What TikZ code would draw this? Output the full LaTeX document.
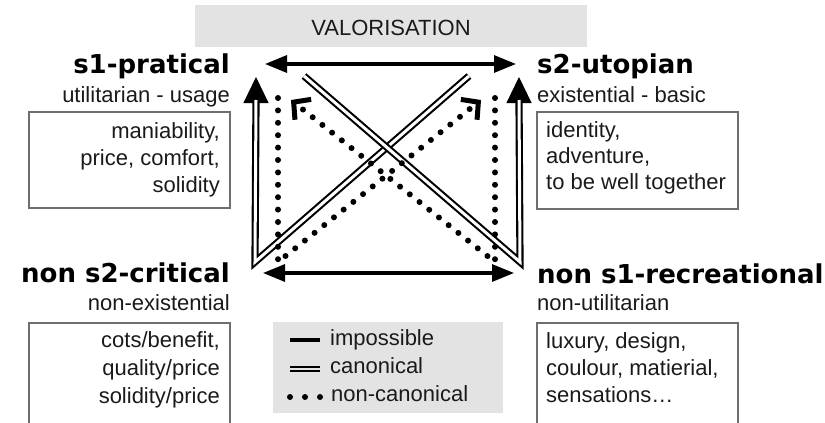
\documentclass[tikz,border=0pt]{standalone}
\usepackage{fontspec}
\setmainfont{Liberation Sans}
\newfontfamily\headfont{DejaVu Sans}
\usetikzlibrary{arrows.meta,calc}
\definecolor{bannergray}{HTML}{E3E3E3}
\definecolor{boxgray}{HTML}{6E6E6E}
\definecolor{textc}{HTML}{1A1A1A}
\tikzset{
  txt/.style={font=\fontsize{22}{26}\selectfont, inner sep=0pt, text=textc},
  head/.style={font=\headfont\bfseries\fontsize{26}{30}\selectfont, inner sep=0pt, text=black},
  impossible/.style={line width=3.2pt, {Triangle[length=22pt,width=17pt]}-{Triangle[length=22pt,width=17pt]}},
  impline/.style={line width=3.4pt},
  canon/.style={line width=2.1pt, double distance=3pt, double=white},
  canonhead/.style={line width=1pt, -{Triangle[length=26pt,width=25pt]}},
  noncanon/.style={line width=6pt, line cap=round, dash pattern=on 0pt off 12.4pt,
    -{Straight Barb[length=12pt,width=26pt,line width=5pt]}},
  catbox/.style={draw=boxgray, line width=1.5pt},
  dotmark/.style={circle, fill=black, inner sep=0pt, minimum size=6pt},
}
\begin{document}
\begin{tikzpicture}[x=1pt,y=-1pt]
\useasboundingbox (0,0) rectangle (825,423);

% banner
\fill[bannergray] (195,5) rectangle (587,47);
\node[txt, anchor=base] (val) at (391,35) {VALORISATION};

% headings
\node[head, anchor=base east] (s1) at (230,73) {s1-pratical};
\node[txt, anchor=base east] (s1sub) at (230,102) {utilitarian - usage};
\node[head, anchor=base west] (s2) at (537,73) {s2-utopian};
\node[txt, anchor=base west] (s2sub) at (537,102) {existential - basic};
\node[head, anchor=base east] (ns2) at (230,282) {non s2-critical};
\node[txt, anchor=base east] (ns2sub) at (230,310) {non-existential};
\node[head, anchor=base west] (ns1) at (537,283) {non s1-recreational};
\node[txt, anchor=base west] (ns1sub) at (537,310) {non-utilitarian};

% boxes
\draw[catbox] (29,112) rectangle (230,208);
\node[txt, anchor=base east] (tl1) at (220,138) {maniability,};
\node[txt, anchor=base east] (tl2) at (220,165) {price, comfort,};
\node[txt, anchor=base east] (tl3) at (220,192) {solidity};

\draw[catbox] (537,112) rectangle (738,209);
\node[txt, anchor=base west] (tr1) at (546,137) {identity,};
\node[txt, anchor=base west] (tr2) at (546,163) {adventure,};
\node[txt, anchor=base west] (tr3) at (546,189) {to be well together};

\draw[catbox] (29,430) -- (29,323) -- (230,323) -- (230,430);
\node[txt, anchor=base east] (bl1) at (220,347) {cots/benefit,};
\node[txt, anchor=base east] (bl2) at (220,375) {quality/price};
\node[txt, anchor=base east] (bl3) at (220,403) {solidity/price};

\draw[catbox] (537,430) -- (537,323) -- (738,323) -- (738,430);
\node[txt, anchor=base west] (br1) at (546,348) {luxury, design,};
\node[txt, anchor=base west] (br2) at (546,375) {coulour, matierial,};
\node[txt, anchor=base west] (br3) at (546,402) {sensations\ldots};

% coordinates of the square
\coordinate (impTL) at (265,64);
\coordinate (impTR) at (516,64);
\coordinate (impBL) at (263,273);
\coordinate (impBR) at (514,273);

\coordinate (lcTop) at (469,76);
\coordinate (lcCorner) at (255,262);
\coordinate (lcEnd) at (256,100);
\coordinate (lcHeadStart) at (256,112);
\coordinate (lcTip) at (256,77);

\coordinate (rcTop) at (304,76);
\coordinate (rcCorner) at (520,262);
\coordinate (rcEnd) at (519,100);
\coordinate (rcHeadStart) at (519,112);
\coordinate (rcTip) at (519,77);

\coordinate (ldTop) at (278,98);
\coordinate (ldCorner) at (278,262);
\coordinate (ldTip) at (481,100);

\coordinate (rdTop) at (495,98);
\coordinate (rdCorner) at (495,262);
\coordinate (rdTip) at (291,100);

% impossible
\draw[impossible] (impTL) -- (impTR);
\draw[impossible] (impBL) -- (impBR);

% canonical
\draw[canonhead] (lcHeadStart) -- (lcTip);
\draw[canonhead] (rcHeadStart) -- (rcTip);
\draw[canon] (lcTop) -- (lcCorner) -- (lcEnd);
\draw[canon] (rcTop) -- (rcCorner) -- (rcEnd);

% non-canonical
\draw[noncanon] (ldTop) -- (ldCorner) -- (ldTip);
\draw[noncanon] (rdTop) -- (rdCorner) -- (rdTip);

% legend
\fill[bannergray] (273,322) rectangle (503,413);
\coordinate (lgA1) at (290,340);
\coordinate (lgA2) at (320,340);
\draw[impline] (lgA1) -- (lgA2);
\node[txt, anchor=base west] (lgT1) at (330,345) {impossible};
\coordinate (lgB1) at (290,369);
\coordinate (lgB2) at (320,369);
\draw[line width=1.8pt, double distance=2.4pt, double=bannergray] (lgB1) -- (lgB2);
\node[txt, anchor=base west] (lgT2) at (330,373) {canonical};
\node[dotmark] (lgD1) at (290,397) {};
\node[dotmark] (lgD2) at (305,397) {};
\node[dotmark] (lgD3) at (320,397) {};
\node[txt, anchor=base west] (lgT3) at (331,401) {non-canonical};
\end{tikzpicture}
\end{document}
